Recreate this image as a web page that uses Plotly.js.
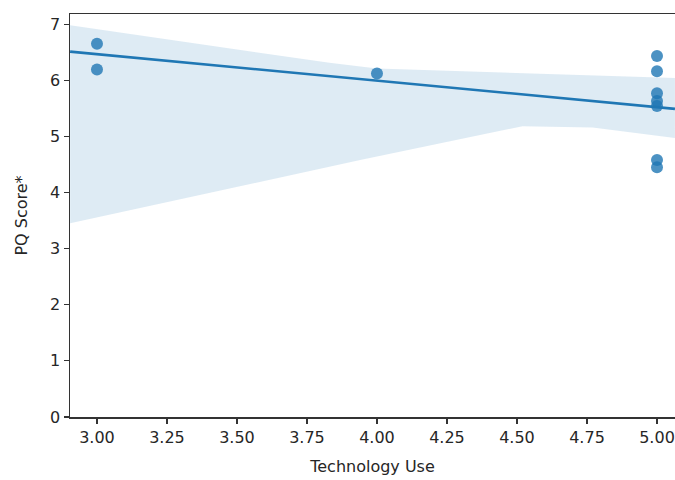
<!DOCTYPE html>
<html>
<head>
<meta charset="utf-8">
<script src="https://cdn.plot.ly/plotly-3.0.1.min.js"></script>
<style>html,body{margin:0;padding:0;background:#fff;overflow:hidden}</style>
</head>
<body>
<div id="chart" style="width:675px;height:480px"></div>
<script>
// Observed data points
const techUse = [3, 3, 4, 5, 5, 5, 5, 5, 5, 5];
const pqScore = [6.65, 6.19, 6.12, 6.43, 6.16, 5.77, 5.63, 5.54, 4.58, 4.45];

// Regression line endpoints
const fitX = [2.904, 5.064];
const fitY = [6.51, 5.49];

// Bootstrap confidence band edges
const bandUpperX = [2.904, 3.83, 4.0, 4.54, 5.064];
const bandUpperY = [6.98, 6.31, 6.21, 6.12, 6.04];
const bandLowerX = [2.904, 3.94, 4.52, 4.77, 5.064];
const bandLowerY = [3.45, 4.58, 5.18, 5.16, 4.97];

const xTicks = [3.0, 3.25, 3.5, 3.75, 4.0, 4.25, 4.5, 4.75, 5.0];
const xTickText = ["3.00", "3.25", "3.50", "3.75", "4.00", "4.25", "4.50", "4.75", "5.00"];
const yTicks = [0, 1, 2, 3, 4, 5, 6, 7];

const blue = '#1f77b4';
const fontFam = 'DejaVu Sans, sans-serif';

const bandX = bandUpperX.concat(bandLowerX.slice().reverse());
const bandY = bandUpperY.concat(bandLowerY.slice().reverse());

const traces = [
  {
    x: bandX, y: bandY, type: 'scatter', mode: 'lines',
    fill: 'toself', fillcolor: 'rgba(31,119,180,0.15)',
    line: {width: 0}, hoverinfo: 'skip', showlegend: false
  },
  {
    x: techUse, y: pqScore, type: 'scatter', mode: 'markers',
    marker: {size: 12, color: blue, opacity: 0.8},
    showlegend: false
  },
  {
    x: fitX, y: fitY, type: 'scatter', mode: 'lines',
    line: {color: blue, width: 2.6}, showlegend: false
  }
];

const layout = {
  width: 675, height: 480,
  margin: {l: 70, r: 0, t: 14, b: 63},
  paper_bgcolor: '#fff', plot_bgcolor: '#fff',
  showlegend: false,
  font: {family: fontFam, size: 16, color: '#262626'},
  xaxis: {
    range: [2.9036, 5.0643],
    tickvals: xTicks, ticktext: xTickText,
    showgrid: false, zeroline: false,
    showline: true, linecolor: '#333', linewidth: 1.5, mirror: true,
    ticks: 'outside', ticklen: 5, tickwidth: 1.2, tickcolor: '#333',
    tickfont: {family: fontFam, size: 16, color: '#262626'},
    title: {text: 'Technology Use', font: {family: fontFam, size: 16, color: '#262626'}, standoff: 15}
  },
  yaxis: {
    range: [0, 7.18],
    tickvals: yTicks,
    showgrid: false, zeroline: false,
    showline: true, linecolor: '#333', linewidth: 1.5,
    ticks: 'outside', ticklen: 5, tickwidth: 1.2, tickcolor: '#333',
    tickfont: {family: fontFam, size: 16, color: '#262626'},
    title: {text: 'PQ Score*', font: {family: fontFam, size: 16, color: '#262626'}, standoff: 18}
  }
};

Plotly.newPlot('chart', traces, layout, {displayModeBar: false, staticPlot: true});
</script>
</body>
</html>
